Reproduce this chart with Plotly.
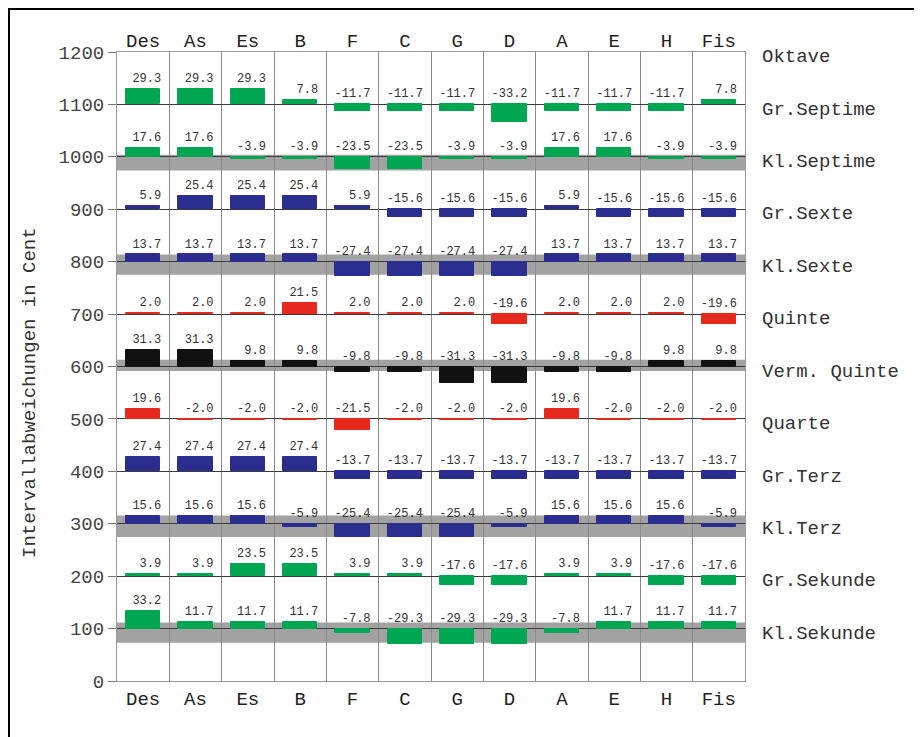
import plotly.graph_objects as go

keys = ["Des", "As", "Es", "B", "F", "C", "G", "D", "A", "E", "H", "Fis"]

interval_names = ["Prime", "Kl.Sekunde", "Gr.Sekunde", "Kl.Terz", "Gr.Terz", "Quarte",
                  "Verm. Quinte", "Quinte", "Kl.Sexte", "Gr.Sexte", "Kl.Septime",
                  "Gr.Septime", "Oktave"]
interval_cents = [0, 100, 200, 300, 400, 500, 600, 700, 800, 900, 1000, 1100, 1200]

# deviations per interval row (cent), columns follow `keys`
kl_sekunde = [33.2, 11.7, 11.7, 11.7, -7.8, -29.3, -29.3, -29.3, -7.8, 11.7, 11.7, 11.7]
gr_sekunde = [3.9, 3.9, 23.5, 23.5, 3.9, 3.9, -17.6, -17.6, 3.9, 3.9, -17.6, -17.6]
kl_terz = [15.6, 15.6, 15.6, -5.9, -25.4, -25.4, -25.4, -5.9, 15.6, 15.6, 15.6, -5.9]
gr_terz = [27.4, 27.4, 27.4, 27.4, -13.7, -13.7, -13.7, -13.7, -13.7, -13.7, -13.7, -13.7]
quarte = [19.6, -2.0, -2.0, -2.0, -21.5, -2.0, -2.0, -2.0, 19.6, -2.0, -2.0, -2.0]
verm_quinte = [31.3, 31.3, 9.8, 9.8, -9.8, -9.8, -31.3, -31.3, -9.8, -9.8, 9.8, 9.8]
quinte = [2.0, 2.0, 2.0, 21.5, 2.0, 2.0, 2.0, -19.6, 2.0, 2.0, 2.0, -19.6]
kl_sexte = [13.7, 13.7, 13.7, 13.7, -27.4, -27.4, -27.4, -27.4, 13.7, 13.7, 13.7, 13.7]
gr_sexte = [5.9, 25.4, 25.4, 25.4, 5.9, -15.6, -15.6, -15.6, 5.9, -15.6, -15.6, -15.6]
kl_septime = [17.6, 17.6, -3.9, -3.9, -23.5, -23.5, -3.9, -3.9, 17.6, 17.6, -3.9, -3.9]
gr_septime = [29.3, 29.3, 29.3, 7.8, -11.7, -11.7, -11.7, -33.2, -11.7, -11.7, -11.7, 7.8]

rows = [
    (100, kl_sekunde, "#00a651"),
    (200, gr_sekunde, "#00a651"),
    (300, kl_terz, "#2b2e8f"),
    (400, gr_terz, "#2b2e8f"),
    (500, quarte, "#e5291f"),
    (600, verm_quinte, "#111111"),
    (700, quinte, "#e5291f"),
    (800, kl_sexte, "#2b2e8f"),
    (900, gr_sexte, "#2b2e8f"),
    (1000, kl_septime, "#00a651"),
    (1100, gr_septime, "#00a651"),
]

# gray tolerance bands: interval, low, high (cent deviation)
band_levels = [100, 300, 600, 800, 1000]
band_low = [-27.0, -25.4, -8.5, -25.0, -26.0]
band_high = [11.7, 15.6, 13.0, 13.7, 4.0]

MONO = "Liberation Mono"
BAR_W = 0.65
xs = list(range(len(keys)))

fig = go.Figure()

for level, devs, color in rows:
    fig.add_trace(go.Bar(
        x=xs, y=devs, base=[level] * len(devs), width=BAR_W,
        marker=dict(color=color, line=dict(color=color, width=1)),
        showlegend=False, hoverinfo="skip",
    ))

# value labels
tx, ty, tt = [], [], []
for level, devs, color in rows:
    for i, d in enumerate(devs):
        tx.append(i + BAR_W / 2 + 0.02)
        ty.append(level + max(d, 0) + 19)
        tt.append(f"{d:.1f}")
fig.add_trace(go.Scatter(
    x=tx, y=ty, text=tt, mode="text", textposition="middle left",
    textfont=dict(family=MONO, size=12, color="#333333"),
    xaxis="x2", showlegend=False, hoverinfo="skip", cliponaxis=False,
))

# page has an 8px body margin: figure occupies page (8..922, 8..737)
OFF = 8
W, H = 922 - OFF, 737 - OFF
L, R, T, B = 117 - OFF, 922 - 745, 52 - OFF, 737 - 681
pw, ph = W - L - R, H - T - B


def px_x(page_x):
    return (page_x - OFF - L) / pw


def px_y(page_y):
    return (H - B - (page_y - OFF)) / ph


shapes = []
for lv, lo, hi in zip(band_levels, band_low, band_high):
    shapes.append(dict(type="rect", xref="paper", yref="y", x0=0, x1=1,
                       y0=lv + lo, y1=lv + hi, fillcolor="#a2a2a2",
                       line=dict(width=0), layer="below"))
# outer frame
shapes.append(dict(type="rect", xref="paper", yref="paper",
                   x0=px_x(OFF + 1), x1=px_x(917),
                   y0=px_y(790), y1=px_y(OFF + 1),
                   line=dict(color="black", width=2), fillcolor="rgba(0,0,0,0)",
                   layer="above"))

annotations = []
for name, c in zip(interval_names, interval_cents):
    annotations.append(dict(x=px_x(760), y=c - 10, xref="paper", yref="y",
                            text=name, showarrow=False, xanchor="left", yanchor="middle",
                            font=dict(family=MONO, size=19, color="#333333")))
annotations.append(dict(x=px_x(30), y=px_y(393), xref="paper", yref="paper",
                        text="Intervallabweichungen in Cent", showarrow=False,
                        textangle=-90, xanchor="center", yanchor="middle",
                        font=dict(family=MONO, size=19, color="#333333")))

xaxis_common = dict(
    range=[-0.5, len(keys) - 0.5], tickmode="array", tickvals=xs, ticktext=keys,
    showgrid=False, zeroline=False, ticks="", ticklen=0,
    tickfont=dict(family=MONO, size=19, color="#222222"),
)

fig.update_layout(
    width=W, height=H,
    margin=dict(l=L, r=R, t=T, b=B, autoexpand=False),
    paper_bgcolor="white", plot_bgcolor="white",
    barmode="overlay", bargap=0,
    xaxis=dict(**xaxis_common, side="bottom", showline=True, linecolor="#999999",
               mirror=True,
               minor=dict(tickmode="array", tickvals=[i - 0.5 for i in range(len(keys) + 1)],
                          showgrid=True, gridcolor="#8a8a8a", gridwidth=1, ticks="")),
    xaxis2=dict(**xaxis_common, side="top", overlaying="x", showline=False),
    yaxis=dict(range=[0, 1200], tickmode="array", tickvals=interval_cents,
               ticks="outside", ticklen=8, tickcolor="#777777",
               showgrid=True, gridcolor="#3a3a3a", gridwidth=1, zeroline=False,
               showline=True, linecolor="#999999", mirror=True,
               tickfont=dict(family=MONO, size=19, color="#444444")),
    shapes=shapes, annotations=annotations,
    font=dict(family=MONO),
)

fig.write_html("out.html")
